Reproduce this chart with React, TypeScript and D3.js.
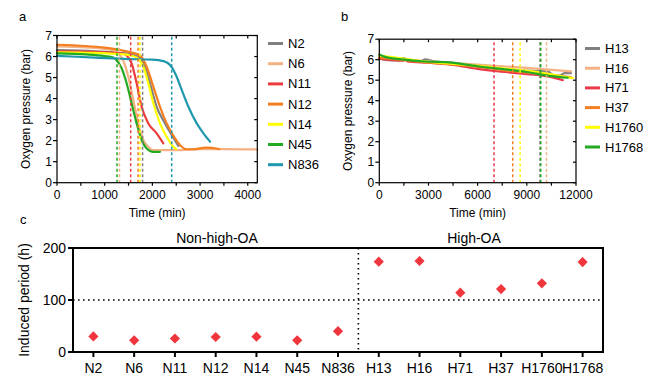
import React from "react";
import * as d3 from "d3";

// ---------- Panel a data (time min, pressure bar) ----------
const aNames = ["N2", "N6", "N11", "N12", "N14", "N45", "N836"];
const aColors = ["#808080", "#f4b183", "#ec3b3b", "#f47f21", "#ffff00", "#22aa22", "#1f98ad"];
const N2: [number, number][] = [[0,6.3],[800,6.25],[1300,6.18],[1600,6.08],[1740,5.95],[1845,5.5],[1950,4.73],[2090,3.61],[2265,2.82],[2405,2.27],[2545,1.75]];
const N6: [number, number][] = [[0,6.48],[600,6.43],[1000,6.36],[1200,6.28],[1300,6.12],[1390,5.8],[1495,5.04],[1600,3.93],[1705,2.82],[1810,2.03],[1915,1.71],[2020,1.55],[2500,1.55],[3000,1.6],[3500,1.6],[4200,1.58]];
const N11: [number, number][] = [[0,6.25],[800,6.22],[1200,6.18],[1400,6.12],[1460,6.05],[1565,5.68],[1670,4.73],[1775,3.61],[1915,2.82],[2090,2.35],[2230,1.87]];
const N12: [number, number][] = [[0,6.56],[600,6.5],[1000,6.42],[1300,6.32],[1550,6.2],[1740,6.05],[1880,5.52],[2020,4.57],[2160,3.61],[2300,2.82],[2475,2.11],[2615,1.71],[2720,1.59],[2900,1.6],[3100,1.67],[3250,1.66],[3400,1.6]];
const N14: [number, number][] = [[0,6.2],[800,6.17],[1300,6.12],[1550,6.05],[1670,5.95],[1810,5.52],[1915,4.73],[2020,3.78],[2160,2.82],[2300,2.19],[2440,1.71],[2500,1.6]];
const N45: [number, number][] = [[0,6.15],[600,6.1],[1000,6.02],[1180,5.95],[1285,5.72],[1355,5.44],[1460,4.73],[1565,3.78],[1670,2.82],[1775,2.03],[1880,1.63],[2020,1.47],[2160,1.47]];
const N836: [number, number][] = [[0,6.03],[800,5.95],[1500,5.88],[2000,5.85],[2230,5.78],[2405,5.5],[2510,5.04],[2615,4.41],[2755,3.61],[2930,2.82],[3070,2.35],[3210,1.95]];
const aSeries = [N2, N6, N11, N12, N14, N45, N836];
const aDash = [1795, 1310, 1545, 1700, 1740, 1258, 2405];

// ---------- Panel b data ----------
const bNames = ["H13", "H16", "H71", "H37", "H1760", "H1768"];
const bColors = ["#808080", "#f4b183", "#ea3a4a", "#f47f21", "#ffff00", "#22aa22"];
const H13: [number, number][] = [[0,6.05],[500,5.98],[1200,5.97],[1500,6.08],[1800,5.95],[2500,5.92],[2800,6.02],[3300,5.92],[4500,5.85],[6000,5.68],[8000,5.52],[9500,5.45],[10300,5.42],[10600,5.25],[11000,5.22],[11300,5.35],[11700,5.35]];
const H16: [number, number][] = [[0,6.1],[3000,5.92],[6000,5.76],[9000,5.6],[11700,5.43]];
const H71: [number, number][] = [[0,6.05],[1500,5.95],[1600,6.04],[1700,5.92],[3000,5.85],[4500,5.75],[6000,5.55],[7000,5.45],[9000,5.3],[10500,5.15],[11200,5.0]];
const H37: [number, number][] = [[0,6.1],[3000,5.86],[6000,5.65],[8000,5.45],[10000,5.3],[11700,5.15]];
const H1760: [number, number][] = [[0,6.2],[1500,6.05],[3000,5.9],[6000,5.7],[8500,5.5],[10000,5.35],[11800,5.1]];
const H1768: [number, number][] = [[0,6.25],[300,6.15],[1500,6.0],[3000,5.9],[4000,5.88],[6000,5.68],[9000,5.4],[10500,5.2],[11500,5.12]];
const bSeries = [H13, H16, H71, H37, H1760, H1768];
const bDash = [9800, 10200, 7000, 8140, 8590, 9850];

// ---------- Panel c data ----------
const cCats = ["N2", "N6", "N11", "N12", "N14", "N45", "N836", "H13", "H16", "H71", "H37", "H1760", "H1768"];
const cVals = [30, 22.5, 26, 28.8, 29.5, 22.5, 40, 173.7, 175, 114, 121, 132, 173];
const cYTicks = [0, 100, 200];

const FONT = "Liberation Sans, Arial, sans-serif";

function LinePanel(props: {
  x: d3.ScaleLinear<number, number>;
  y: d3.ScaleLinear<number, number>;
  series: [number, number][][];
  colors: string[];
  names: string[];
  dashes: number[];
  majorTicks: number[];
  minorTicks: number[];
  legendX: number;
  legendY0: number;
  legendStep: number;
  label: string;
  labelX: number;
}) {
  const { x, y, series, colors, names, dashes, majorTicks, minorTicks } = props;
  const [x0, x1] = x.range();
  const [y0, y1] = y.range();
  const line = d3.line<[number, number]>().x(d => x(d[0])).y(d => y(d[1])).curve(d3.curveMonotoneX);
  const yTicks = d3.range(0, 8);
  return (
    <g fontFamily={FONT}>
      <text x={props.labelX} y={21} fontSize={13}>{props.label}</text>
      {series.map((s, i) => (
        <path key={i} d={line(s) || ""} fill="none" stroke={colors[i]} strokeWidth={2.2} strokeLinejoin="round" strokeLinecap="round" />
      ))}
      {dashes.map((t, i) => (
        <line key={i} x1={x(t)} x2={x(t)} y1={y0} y2={y1} stroke={colors[i]} strokeWidth={1.5} strokeDasharray="3,2.5" />
      ))}
      <rect x={x0} y={y1} width={x1 - x0} height={y0 - y1} fill="none" stroke="#000" strokeWidth={1.2} />
      {yTicks.map(v => (
        <g key={v}>
          <line x1={x0 - 4} x2={x0} y1={y(v)} y2={y(v)} stroke="#000" strokeWidth={1.2} />
          <line x1={x1 - 3} x2={x1} y1={y(v)} y2={y(v)} stroke="#000" strokeWidth={1.2} />
          <text x={x0 - 5} y={y(v)} dy="0.35em" textAnchor="end" fontSize={12}>{v}</text>
        </g>
      ))}
      {minorTicks.map(v => (
        <g key={v}>
          <line x1={x(v)} x2={x(v)} y1={y0} y2={y0 + 3} stroke="#000" strokeWidth={1.2} />
          <line x1={x(v)} x2={x(v)} y1={y1} y2={y1 + 3} stroke="#000" strokeWidth={1.2} />
        </g>
      ))}
      {majorTicks.map(v => (
        <text key={v} x={x(v)} y={y0 + 16} textAnchor="middle" fontSize={12}>{v}</text>
      ))}
      <text x={(x0 + x1) / 2} y={y0 + 34} textAnchor="middle" fontSize={12}>Time (min)</text>
      <text transform={`translate(${x0 - 27},${(y0 + y1) / 2}) rotate(-90)`} textAnchor="middle" fontSize={12}>Oxygen pressure (bar)</text>
      {names.map((n, i) => (
        <g key={n}>
          <line x1={props.legendX} x2={props.legendX + 15} y1={props.legendY0 + i * props.legendStep} y2={props.legendY0 + i * props.legendStep} stroke={colors[i]} strokeWidth={3} />
          <text x={props.legendX + 20} y={props.legendY0 + i * props.legendStep} dy="0.35em" fontSize={13}>{n}</text>
        </g>
      ))}
    </g>
  );
}

export default function App() {
  const xA = d3.scaleLinear().domain([0, 4200]).range([57, 257.3]);
  const yA = d3.scaleLinear().domain([0, 7]).range([182.7, 35.5]);
  const xB = d3.scaleLinear().domain([0, 12000]).range([379.3, 576]);
  const yB = d3.scaleLinear().domain([0, 7]).range([182.7, 39.2]);
  const xC = d3.scalePoint<string>().domain(cCats).range([73, 603]).padding(0.5);
  const yC = d3.scaleLinear().domain([0, 200]).range([352, 248]);
  const diamond = d3.symbol().type(d3.symbolSquare).size(52)();
  const splitX = ((xC("N836") as number) + (xC("H13") as number)) / 2;

  return (
    <svg width={662} height={379} style={{ position: "absolute", left: 0, top: 0, background: "#fff" }}>
      <rect width={662} height={379} fill="#fff" />
      <LinePanel x={xA} y={yA} series={aSeries} colors={aColors} names={aNames} dashes={aDash}
        majorTicks={d3.range(0, 4001, 1000)} minorTicks={d3.range(0, 4201, 500)}
        legendX={268} legendY0={43.5} legendStep={20.2} label="a" labelX={19} />
      <LinePanel x={xB} y={yB} series={bSeries} colors={bColors} names={bNames} dashes={bDash}
        majorTicks={d3.range(0, 12001, 3000)} minorTicks={d3.range(0, 12001, 1500)}
        legendX={585} legendY0={48.5} legendStep={19.7} label="b" labelX={341} />
      {/* panel c */}
      <g fontFamily={FONT}>
        <text x={20} y={224} fontSize={13}>c</text>
        <line x1={73} x2={603} y1={yC(100)} y2={yC(100)} stroke="#000" strokeWidth={1.6} strokeDasharray="1.6,3.4" />
        <line x1={splitX} x2={splitX} y1={248} y2={352} stroke="#000" strokeWidth={1.6} strokeDasharray="1.6,3.4" />
        {cCats.map((c, i) => (
          <path key={c} d={diamond || ""} transform={`translate(${xC(c)},${yC(cVals[i])}) rotate(45)`} fill="#f0353c" />
        ))}
        <rect x={73} y={248} width={530} height={104} fill="none" stroke="#000" strokeWidth={2} />
        {cYTicks.map(v => (
          <g key={v}>
            <line x1={68} x2={73} y1={yC(v)} y2={yC(v)} stroke="#000" strokeWidth={2} />
            <text x={66} y={yC(v)} dy="0.35em" textAnchor="end" fontSize={14}>{v}</text>
          </g>
        ))}
        {cCats.map(c => (
          <g key={c}>
            <line x1={xC(c)} x2={xC(c)} y1={352} y2={357} stroke="#000" strokeWidth={2} />
            <text x={xC(c)} y={373} textAnchor="middle" fontSize={14}>{c}</text>
          </g>
        ))}
        <text transform={`translate(29,300) rotate(-90)`} textAnchor="middle" fontSize={14}>Induced period (h)</text>
        <text x={217} y={243} textAnchor="middle" fontSize={14}>Non-high-OA</text>
        <text x={474} y={243} textAnchor="middle" fontSize={14}>High-OA</text>
      </g>
    </svg>
  );
}
